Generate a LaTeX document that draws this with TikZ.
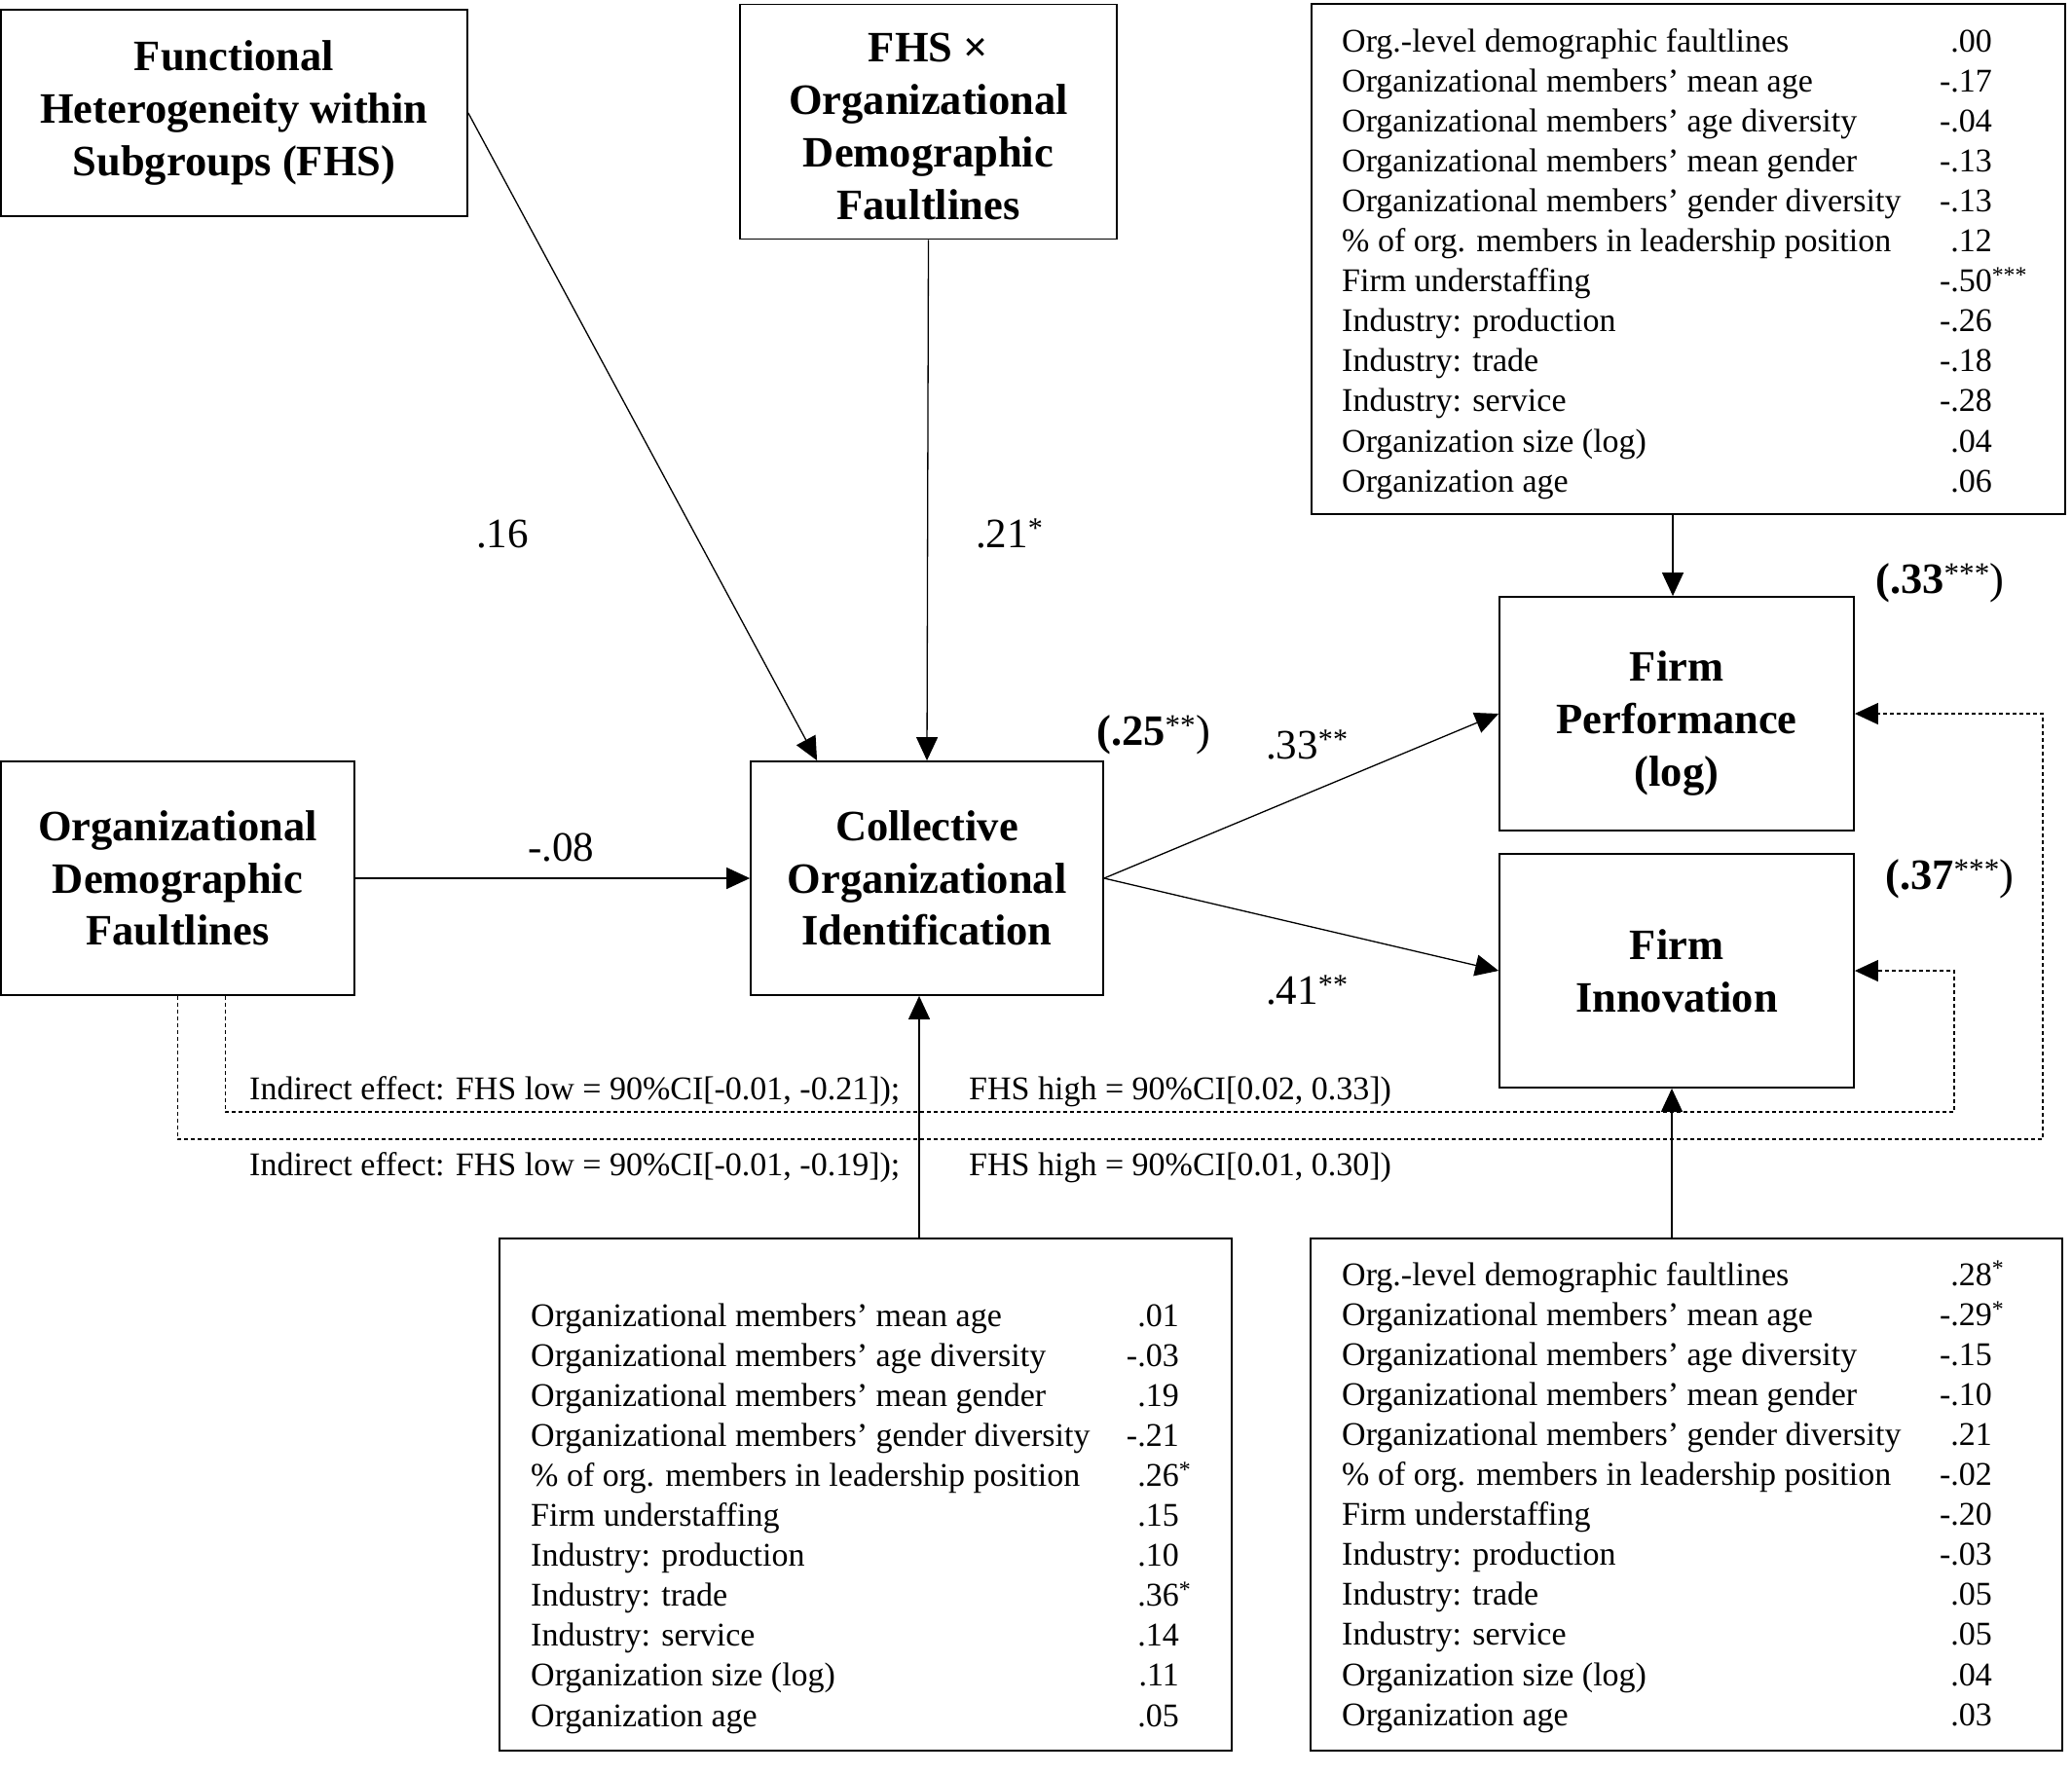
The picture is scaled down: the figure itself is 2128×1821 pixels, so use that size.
\documentclass[tikz,border=0pt]{standalone}
\usepackage{fontspec}
\setmainfont{Liberation Serif}
\usetikzlibrary{arrows.meta,calc}
\begin{document}
\begin{tikzpicture}[x=1pt,y=-1pt,
  box/.style={draw,line width=1.8pt,inner sep=0pt},
  boxtxt/.style={inner sep=0pt,align=center,font=\fontsize{44.5}{53.7}\selectfont\bfseries},
  tbl/.style={draw,line width=1.8pt,inner sep=0pt},
  arr/.style={line width=1.3pt,-{Triangle[length=24pt,width=22pt]}},
  dsh/.style={line width=1.3pt,dash pattern=on 4pt off 3pt,-{Triangle[length=24pt,width=22pt]}},
  lab/.style={inner sep=0pt,font=\fontsize{43}{50}\selectfont},
  rsq/.style={inner sep=0pt,font=\fontsize{44.5}{50}\selectfont\bfseries},
  tabrow/.style={inner sep=0pt,font=\fontsize{34}{41}\selectfont},
]
\fill[white] (0,0) rectangle (2128,1821);
\useasboundingbox (0,0) rectangle (2128,1821);

% main boxes
\node[box,minimum width=479pt,minimum height=212pt] (fhs) at (240.5,116) {};
\node[boxtxt] (fhstxt) at (fhs.center) {Functional\\Heterogeneity within\\Subgroups (FHS)};
\node[box,minimum width=387pt,minimum height=241pt] (fhsx) at (953.5,125) {};
\node[boxtxt] (fhsxtxt) at ([yshift=-5pt]fhsx.center) {FHS ×\\Organizational\\Demographic\\Faultlines};
\node[box,minimum width=363pt,minimum height=240pt] (odf) at (182.5,902) {};
\node[boxtxt] (odftxt) at (odf.center) {Organizational\\Demographic\\Faultlines};
\node[box,minimum width=362pt,minimum height=240pt] (coi) at (952,902) {};
\node[boxtxt] (coitxt) at (coi.center) {Collective\\Organizational\\Identification};
\node[box,minimum width=364pt,minimum height=240pt] (fp) at (1722,733) {};
\node[boxtxt] (fptxt) at ([yshift=-10pt]fp.center) {Firm\\Performance\\(log)};
\node[box,minimum width=364pt,minimum height=240pt] (fi) at (1722,997) {};
\node[boxtxt] (fitxt) at (fi.center) {Firm\\Innovation};

% control tables
\node[tbl,minimum width=774pt,minimum height=524pt] (trt) at (1733.75,265.8) {};
\node[tbl,minimum width=752pt,minimum height=526pt] (blt) at (889,1535) {};
\node[tbl,minimum width=772pt,minimum height=526pt] (brt) at (1732,1535) {};

\foreach \t/\v [count=\i] in {
  {Org.-level demographic faultlines}/{.00},
  {Organizational members’ mean age}/{-.17},
  {Organizational members’ age diversity}/{-.04},
  {Organizational members’ mean gender}/{-.13},
  {Organizational members’ gender diversity}/{-.13},
  {\% of org. members in leadership position}/{.12},
  {Firm understaffing}/{-.50\rlap{\textsuperscript{***}}},
  {Industry: production}/{-.26},
  {Industry: trade}/{-.18},
  {Industry: service}/{-.28},
  {Organization size (log)}/{.04},
  {Organization age}/{.06}}{
  \node[tabrow,anchor=base west] (tr\i) at (1378,{53+41.1*(\i-1)}) {\t};
  \node[tabrow,anchor=base east] (trv\i) at (2046,{53+41.1*(\i-1)}) {\v};
}

\foreach \t/\v [count=\i] in {
  {Organizational members’ mean age}/{.01},
  {Organizational members’ age diversity}/{-.03},
  {Organizational members’ mean gender}/{.19},
  {Organizational members’ gender diversity}/{-.21},
  {\% of org. members in leadership position}/{.26\rlap{\textsuperscript{*}}},
  {Firm understaffing}/{.15},
  {Industry: production}/{.10},
  {Industry: trade}/{.36\rlap{\textsuperscript{*}}},
  {Industry: service}/{.14},
  {Organization size (log)}/{.11},
  {Organization age}/{.05}}{
  \node[tabrow,anchor=base west] (bl\i) at (545,{1362+41.1*(\i-1)}) {\t};
  \node[tabrow,anchor=base east] (blv\i) at (1211,{1362+41.1*(\i-1)}) {\v};
}

\foreach \t/\v [count=\i] in {
  {Org.-level demographic faultlines}/{.28\rlap{\textsuperscript{*}}},
  {Organizational members’ mean age}/{-.29\rlap{\textsuperscript{*}}},
  {Organizational members’ age diversity}/{-.15},
  {Organizational members’ mean gender}/{-.10},
  {Organizational members’ gender diversity}/{.21},
  {\% of org. members in leadership position}/{-.02},
  {Firm understaffing}/{-.20},
  {Industry: production}/{-.03},
  {Industry: trade}/{.05},
  {Industry: service}/{.05},
  {Organization size (log)}/{.04},
  {Organization age}/{.03}}{
  \node[tabrow,anchor=base west] (br\i) at (1378,{1320+41.1*(\i-1)}) {\t};
  \node[tabrow,anchor=base east] (brv\i) at (2046,{1320+41.1*(\i-1)}) {\v};
}

% solid connectors
\draw[arr] (fhs.east) -- ([xshift=69pt]coi.north west);
\draw[arr] (fhsx.south) -- (coi.north);
\draw[arr] (odf.east) -- (coi.west);
\draw[arr] (coi.east) -- (fp.west);
\draw[arr] (coi.east) -- (fi.west);
\draw[arr] ([xshift=-4pt]fp.north |- trt.south) -- ([xshift=-4pt]fp.north);
\draw[arr] ([xshift=-8pt]coi.south |- blt.north) -- ([xshift=-8pt]coi.south);
\draw[arr] ([xshift=-5pt]fi.south |- brt.north) -- ([xshift=-5pt]fi.south);

% dashed indirect-effect paths
\coordinate (o1) at (2098,1170);
\coordinate (i1) at (2007,1142);
\draw[dsh] (odf.south) |- (o1) |- (fp.east);
\draw[dsh] ([xshift=49pt]odf.south) |- (i1) |- (fi.east);

% path labels
\node[lab,anchor=base] (l16) at (516,562) {.16};
\node[lab,anchor=base west] (l21) at (1002,562) {.21\textsuperscript{*}};
\node[lab,anchor=base west] (l08) at (542,884) {-.08};
\node[lab,anchor=base west] (l33) at (1300,779) {.33\textsuperscript{**}};
\node[lab,anchor=base west] (l41) at (1300,1031) {.41\textsuperscript{**}};
\node[rsq,anchor=base west] (r25) at (1126,765) {(.25\textsuperscript{\mdseries **}\mdseries)};
\node[rsq,anchor=base west] (r33) at (1926,609) {(.33\textsuperscript{\mdseries ***}\mdseries)};
\node[rsq,anchor=base west] (r37) at (1936,913) {(.37\textsuperscript{\mdseries ***}\mdseries)};

% indirect effects
\node[tabrow,anchor=base west] (ie1) at (256,1129) {Indirect effect: FHS low = 90\%CI[-0.01, -0.21]);};
\node[tabrow,anchor=base west] (ie1h) at (995,1129) {FHS high = 90\%CI[0.02, 0.33])};
\node[tabrow,anchor=base west] (ie2) at (256,1207) {Indirect effect: FHS low = 90\%CI[-0.01, -0.19]);};
\node[tabrow,anchor=base west] (ie2h) at (995,1207) {FHS high = 90\%CI[0.01, 0.30])};
\end{tikzpicture}
\end{document}
